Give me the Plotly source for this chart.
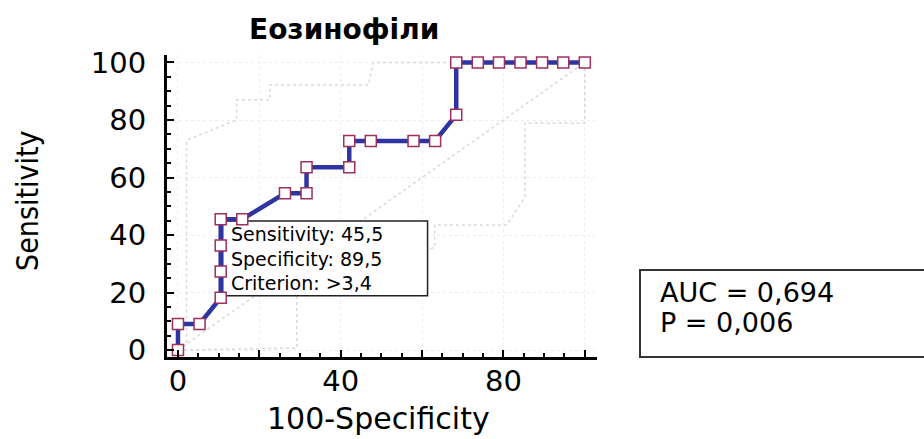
import plotly.graph_objects as go

# ROC curve for eosinophils: 100-specificity (%) vs sensitivity (%)
fpr = [0, 0, 5.3, 10.5, 10.5, 10.5, 10.5, 15.8, 26.3, 31.6, 31.6, 42.1, 42.1,
       47.4, 57.9, 63.2, 68.4, 68.4, 73.7, 78.9, 84.2, 89.5, 94.7, 100]
sensitivity = [0, 9.1, 9.1, 18.2, 27.3, 36.4, 45.5, 45.5, 54.5, 54.5, 63.6, 63.6, 72.7,
               72.7, 72.7, 72.7, 81.8, 100, 100, 100, 100, 100, 100, 100]

# 95% confidence bounds of the curve
ci_upper_x = [0, 2.1, 2.1, 14.4, 14.4, 22.6, 22.6, 46.8, 48.0, 100]
ci_upper_y = [0, 2.0, 73.0, 80.0, 87.0, 87.0, 92.2, 92.2, 100, 100]
ci_lower_x = [0, 29.2, 29.2, 63.1, 63.1, 80.8, 85.3, 85.3, 100, 100]
ci_lower_y = [0, 0.7, 18.5, 35.8, 43.5, 43.5, 53.2, 79.0, 79.0, 100]

# Chance line
diag_x = [0, 100]
diag_y = [0, 100]

tick_vals = [0, 20, 40, 60, 80, 100]
x_tick_text = ["0", "", "40", "", "80", ""]
y_tick_text = ["0", "20", "40", "60", "80", "100"]

title_text = "Еозинофіли"
x_title = "100-Specificity"
y_title = "Sensitivity"
callout_lines = ["Sensitivity: 45,5", "Specificity: 89,5", "Criterion: >3,4"]
stats_lines = ["AUC = 0,694", "P = 0,006"]

FONT = "DejaVu Sans"
LINE_BLUE = "#2E34A2"
MARKER_EDGE = "#9E2F5E"
FAINT = "#d9d9d9"

fig = go.Figure()

for xs, ys in [(diag_x, diag_y), (ci_upper_x, ci_upper_y), (ci_lower_x, ci_lower_y)]:
    fig.add_trace(go.Scatter(x=xs, y=ys, mode="lines",
                             line=dict(color=FAINT, width=1.5, dash="dot"), hoverinfo="skip"))

# White callout frame for the optimal cut-off
box_x0, box_x1, box_y0, box_y1 = 11.0, 61.35, 18.9, 44.9
fig.add_trace(go.Scatter(x=[box_x0, box_x1, box_x1, box_x0, box_x0],
                         y=[box_y0, box_y0, box_y1, box_y1, box_y0],
                         mode="lines", fill="toself", fillcolor="white",
                         line=dict(color="#222222", width=1.5), hoverinfo="skip"))

fig.add_trace(go.Scatter(x=fpr, y=sensitivity, mode="lines+markers",
                         line=dict(color=LINE_BLUE, width=4.5),
                         marker=dict(symbol="square", size=11, color="white",
                                     line=dict(color=MARKER_EDGE, width=1.5)),
                         cliponaxis=False))

axis_common = dict(
    tickvals=tick_vals,
    ticks="inside", ticklen=7, tickwidth=2, tickcolor="black",
    showline=True, linewidth=3, linecolor="black",
    showgrid=True, gridcolor="#eeeeee", griddash="dot", gridwidth=1,
    zeroline=False,
    tickfont=dict(family=FONT, size=29, color="black"),
    minor=dict(dtick=5, tick0=0, ticks="inside", ticklen=4, tickwidth=1.5,
               tickcolor="black", showgrid=False),
    fixedrange=True,
)

fig.update_xaxes(range=[-2.7, 103], ticktext=x_tick_text, ticklabelstandoff=-4, **axis_common)
fig.update_yaxes(range=[-2.4, 102.6], ticktext=y_tick_text, ticklabelstandoff=12, **axis_common)

annotations = [
    dict(text=title_text, xref="paper", yref="paper", x=0.412, y=1.086,
         xanchor="center", yanchor="middle", showarrow=False,
         font=dict(family=FONT, size=28, color="black", weight="bold")),
    dict(text=x_title, xref="paper", yref="paper", x=0.493, y=-0.202,
         xanchor="center", yanchor="middle", showarrow=False,
         font=dict(family=FONT, size=30, color="black")),
    dict(text=y_title, xref="paper", yref="paper", x=-0.323, y=0.517,
         xanchor="center", yanchor="middle", textangle=-90, showarrow=False,
         font=dict(family="DejaVu Sans Condensed, DejaVu Sans", size=30, color="black")),
    # Cut-off summary inside the callout frame
    dict(text="<br>".join(callout_lines), xref="x", yref="y", x=12.8, y=32.0,
         xanchor="left", yanchor="middle", align="left", showarrow=False,
         borderpad=0,
         font=dict(family=FONT, size=19, color="black")),
]

stats_y = [0.212, 0.113]
for line, yy in zip(stats_lines, stats_y):
    annotations.append(dict(text=line, xref="paper", yref="paper", x=1.142, y=yy,
                            xanchor="left", yanchor="middle", showarrow=False,
                            font=dict(family=FONT, size=27, color="black")))

fig.update_layout(
    width=924, height=439,
    margin=dict(l=167, r=327, t=55, b=82),
    plot_bgcolor="white", paper_bgcolor="white",
    showlegend=False,
    annotations=annotations,
    shapes=[dict(type="rect", xref="paper", yref="paper",
                 x0=1.1, x1=1.78, y0=0.0, y1=0.288,
                 line=dict(color="#333333", width=2), fillcolor="rgba(0,0,0,0)")],
)

fig.write_html("out.html", config={"displayModeBar": False})
